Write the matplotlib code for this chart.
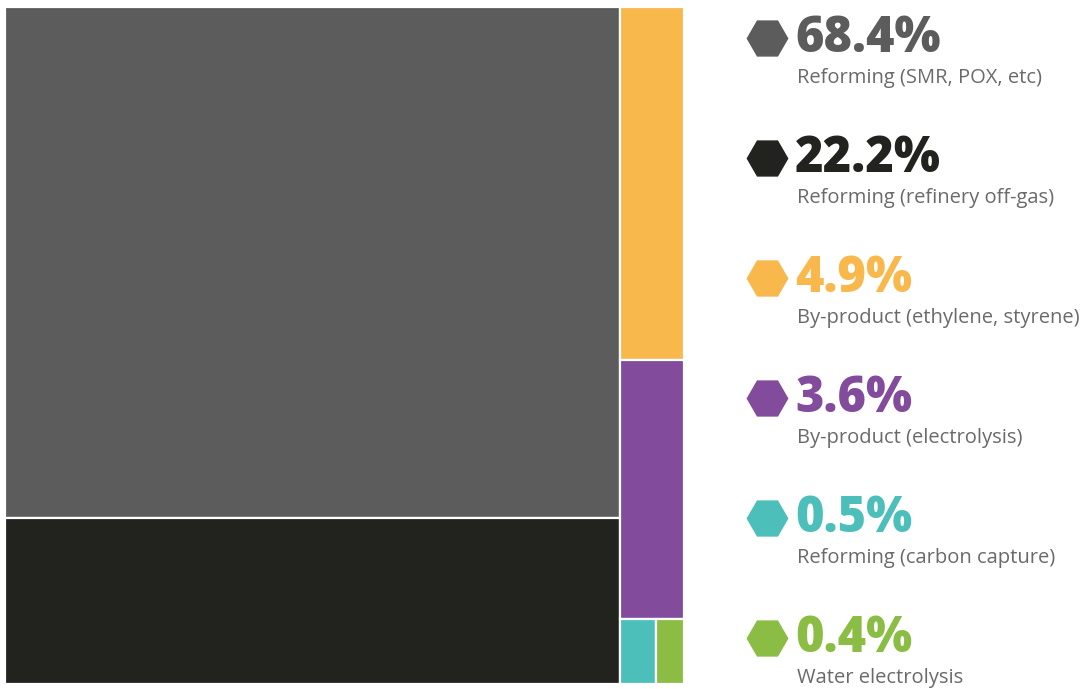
import matplotlib.pyplot as plt
from matplotlib.patches import Rectangle

# share of hydrogen production by route (%)
labels = [
    "Reforming (SMR, POX, etc)",
    "Reforming (refinery off-gas)",
    "By-product (ethylene, styrene)",
    "By-product (electrolysis)",
    "Reforming (carbon capture)",
    "Water electrolysis",
]
shares = [68.4, 22.2, 4.9, 3.6, 0.5, 0.4]
colors = ["#5c5c5c", "#22221e", "#f8b84c", "#824b9b", "#4dbfba", "#8bbd45"]

W, H = 1089, 689
fig = plt.figure(figsize=(W / 100, H / 100), dpi=100)

# treemap area in pixels: x 5..684, y 7..683
ax = fig.add_axes([5 / W, 1 - 684 / H, 679 / W, 677 / H])
ax.set_xlim(0, 1)
ax.set_ylim(1, 0)
ax.axis("off")

total = sum(shares)
big = shares[:2]
small = shares[2:]
left_w = sum(big) / total

def rect(x, y, w, h, c):
    ax.add_patch(Rectangle((x, y), w, h, facecolor=c, edgecolor="white", lw=1.6))

# left column: two big blocks stacked
y = 0
for s, c in zip(big, colors[:2]):
    h = s / sum(big)
    rect(0, y, left_w, h, c)
    y += h

# right column: yellow, purple stacked, last two side by side
rw = 1 - left_w
rest = sum(small)
y = 0
for s, c in zip(small[:2], colors[2:4]):
    h = s / rest
    rect(left_w, y, rw, h, c)
    y += h
h = sum(small[2:]) / rest
x = left_w
for s, c in zip(small[2:], colors[4:]):
    w = rw * s / sum(small[2:])
    rect(x, y, w, h, c)
    x += w

# legend on the right
lax = fig.add_axes([0, 0, 1, 1])
lax.set_xlim(0, W)
lax.set_ylim(H, 0)
lax.axis("off")
for i, (lab, s, c) in enumerate(zip(labels, shares, colors)):
    yc = 38 + i * 120
    lax.plot(767, yc, marker="H", markersize=29, color=c, clip_on=False)
    lax.text(795, yc + 1, f"{s}%", fontsize=35, fontweight="heavy", family="Open Sans",
             color=c, va="center", ha="left")
    lax.text(797, yc + 40, lab, fontsize=14.5, family="Open Sans", color="#6a6a6a",
             va="center", ha="left")

fig.savefig("out.png", dpi=100, facecolor="white")
